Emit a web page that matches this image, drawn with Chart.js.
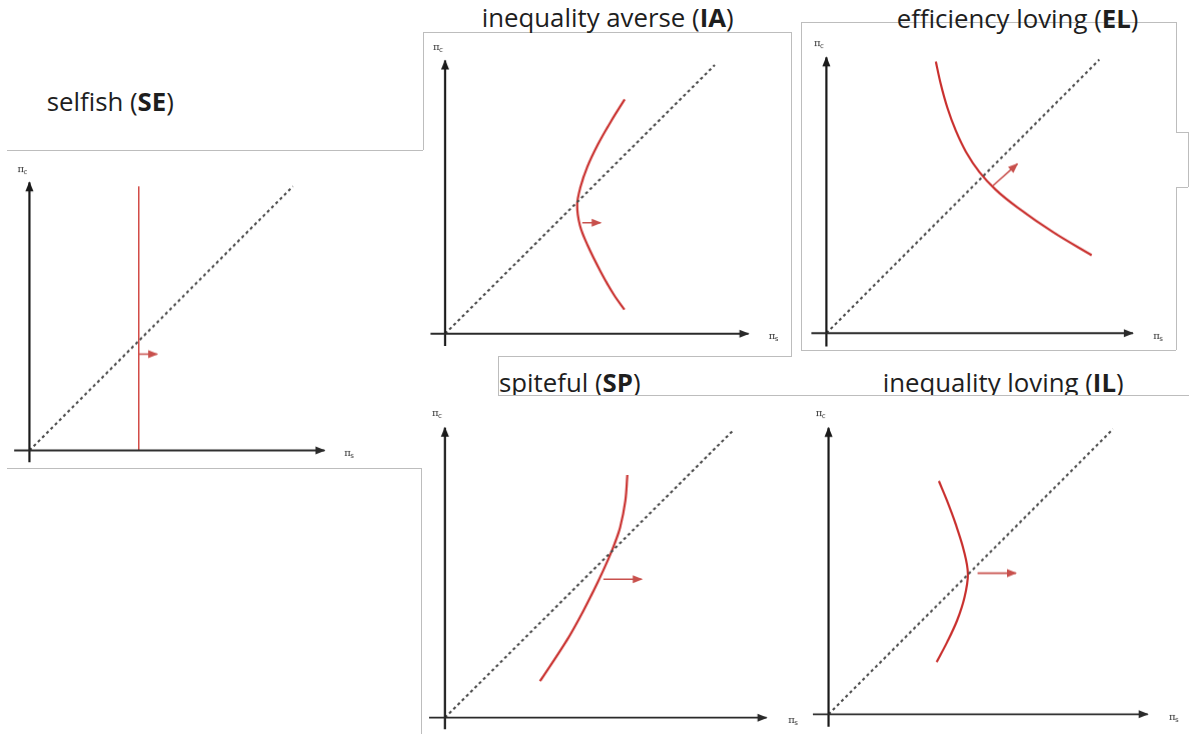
<!DOCTYPE html>
<html>
<head>
<meta charset="utf-8">
<script src="https://cdn.jsdelivr.net/npm/chart.js@4.4.1/dist/chart.umd.min.js"></script>
<style>
  html, body { margin: 0; padding: 0; background: #fff; }
  body { width: 1189px; height: 734px; position: relative; overflow: hidden; }
  .ln { position: absolute; background: #bdbdbd; }
  .title { position: absolute; font-family: "Open Sans", sans-serif; font-size: 25.8px; line-height: 25.8px;
           color: #1e1e1e; white-space: nowrap; }
  .clip { position: absolute; overflow: hidden; }
  .panel { position: absolute; }
</style>
</head>
<body>
<script>
// ---- data (in each panel's own units, origin = 0,0, end of diagonal = 10,10) ----
const panelCodes = ['SE', 'IA', 'EL', 'SP', 'IL']
const panelNames = ['selfish', 'inequality averse', 'efficiency loving', 'spiteful', 'inequality loving']
const xAxisFrom = [-0.58, -0.54, -0.55, -0.55, -0.55]
const xAxisTo = [11.2, 11.25, 11.23, 11.16, 11.22]
const yAxisFrom = [-0.45, -0.46, -0.49, -0.40, -0.44]
const yAxisTo = [10.15, 10.17, 10.08, 10.09, 10.05]
const diagonalTo = [10, 10, 10, 10, 10]

const seCurve = [[4.15, 0], [4.15, 10]]
const iaCurve = [[6.66, 8.72], [6.15, 7.9], [5.67, 7.05], [5.27, 6.2], [5.02, 5.45], [4.9, 4.8],
                 [5.0, 4.04], [5.28, 3.3], [5.77, 2.31], [6.26, 1.45], [6.65, 0.9]]
const elCurve = [[4.01, 9.93], [4.19, 9.11], [4.43, 8.25], [4.74, 7.41], [5.12, 6.62], [5.6, 5.9],
                 [6.2, 5.25], [7.0, 4.6], [8.3, 3.7], [9.72, 2.85]]
const spCurve = [[6.33, 8.45], [6.26, 7.55], [6.08, 6.63], [5.89, 6.06], [5.67, 5.52], [5.31, 4.73],
                 [4.82, 3.75], [4.24, 2.71], [3.30, 1.27]]
const ilCurve = [[3.88, 8.18], [4.17, 7.48], [4.47, 6.67], [4.76, 5.73], [4.9, 4.92], [4.78, 4.1],
                 [4.52, 3.29], [4.17, 2.53], [3.80, 1.83]]

const seArrow = [[4.15, 3.65], [4.85, 3.65]]
const iaArrow = [[5.09, 4.13], [5.77, 4.13]]
const elArrow = [[6.11, 5.40], [7.0, 6.19]]
const spArrow = [[5.5, 4.82], [6.83, 4.82]]
const ilArrow = [[5.24, 4.95], [6.59, 4.95]]

const curves = [seCurve, iaCurve, elCurve, spCurve, ilCurve]
const arrows = [seArrow, iaArrow, elArrow, spArrow, ilArrow]

// ---- layout ----
const panelOrigin = [[28.3, 450.7], [444, 334.3], [825, 333.3], [444.3, 718.3], [827.3, 714]]
const panelScale = [26.5, 27.05, 27.45, 28.9, 28.6]
const titleLeft = [46.7, 481.7, 896.7, 499, 882.7]
const titleBaseline = [111.7, 28.3, 29.3, 393.3, 393.3]
const titleClip = [null, null, null, 395, 395]
const range = { xMin: -1, xMax: 13, yMin: -1, yMax: 11.3 }

// frame lines: [x1, y1, x2, y2]
const frameLines = [
    [7, 150, 423, 150], [7, 468, 421, 468], [423, 32, 423, 150], [421, 468, 421, 734],
    [423, 32, 791, 32], [791, 32, 791, 357], [498, 356, 791, 356], [498, 356, 498, 395],
    [498, 395, 1189, 395],
    [801, 22, 1176, 22], [801, 350, 1176, 350], [801, 22, 801, 350], [1176, 22, 1176, 132],
    [1176, 132, 1188, 132], [1188, 132, 1188, 187], [1176, 187, 1188, 187], [1176, 187, 1176, 350]
]

frameLines.forEach(l => {
    let d = document.createElement('div')
    d.className = 'ln'
    d.style.left = Math.min(l[0], l[2]) + 'px'
    d.style.top = Math.min(l[1], l[3]) + 'px'
    d.style.width = Math.max(1, Math.abs(l[2] - l[0])) + 'px'
    d.style.height = Math.max(1, Math.abs(l[3] - l[1])) + 'px'
    document.body.appendChild(d)
})

//titles
panelNames.forEach((name, i) => {
    let t = document.createElement('div')
    t.className = 'title'
    t.innerHTML = name + ' (<b>' + panelCodes[i] + '</b>)'
    let top = titleBaseline[i] - 22.9
    if (titleClip[i]) {
        let c = document.createElement('div')
        c.className = 'clip'
        c.style.left = titleLeft[i] + 'px'
        c.style.top = (top - 5) + 'px'
        c.style.width = '400px'
        c.style.height = (titleClip[i] - top + 5) + 'px'
        t.style.left = '0px'
        t.style.top = '5px'
        c.appendChild(t)
        document.body.appendChild(c)
    } else {
        t.style.left = titleLeft[i] + 'px'
        t.style.top = top + 'px'
        document.body.appendChild(t)
    }
})

//arrow heads + axis symbols
const arrowPlugin = {
    id: 'arrowHeads',
    afterDatasetsDraw(chart) {
        const ctx = chart.ctx
        chart.data.datasets.forEach((ds, i) => {
            if (!ds.arrowSize) return
            const pts = chart.getDatasetMeta(i).data
            const a = pts[pts.length - 2], b = pts[pts.length - 1]
            const ang = Math.atan2(b.y - a.y, b.x - a.x)
            ctx.save()
            ctx.fillStyle = ds.borderColor
            ctx.translate(b.x, b.y)
            ctx.rotate(ang)
            ctx.beginPath()
            ctx.moveTo(1, 0)
            ctx.lineTo(-ds.arrowSize, ds.arrowSize * 0.45)
            ctx.lineTo(-ds.arrowSize, -ds.arrowSize * 0.45)
            ctx.closePath()
            ctx.fill()
            ctx.restore()
        })
        // pi labels near the axis ends
        const k = chart.options.plugins.arrowHeads.panel
        const xs = chart.scales.x, ys = chart.scales.y
        const drawPi = (x, y, sub) => {
            ctx.save()
            ctx.fillStyle = '#333'
            ctx.textBaseline = 'alphabetic'
            ctx.font = '10px "DejaVu Serif", serif'
            ctx.fillText('π', x, y)
            ctx.font = '7px "DejaVu Sans", sans-serif'
            ctx.fillText(sub, x + 6, y + 2)
            ctx.restore()
        }
        drawPi(xs.getPixelForValue(-0.45), ys.getPixelForValue(yAxisTo[k] + 0.4), 'c')
        drawPi(xs.getPixelForValue(xAxisTo[k] + 0.75), ys.getPixelForValue(-0.2), 's')
    }
}

function pts(arr) {
    return arr.map(p => ({ x: p[0], y: p[1] }))
}

panelCodes.forEach((code, i) => {
    const s = panelScale[i]
    const o = panelOrigin[i]
    let box = document.createElement('div')
    box.className = 'panel'
    box.style.left = (o[0] + range.xMin * s) + 'px'
    box.style.top = (o[1] - range.yMax * s) + 'px'
    box.style.width = ((range.xMax - range.xMin) * s) + 'px'
    box.style.height = ((range.yMax - range.yMin) * s) + 'px'
    let cv = document.createElement('canvas')
    box.appendChild(cv)
    document.body.appendChild(box)

    new Chart(cv.getContext('2d'), {
        type: 'scatter',
        data: {
            datasets: [{
                label: 'x axis',
                data: pts([[xAxisFrom[i], 0], [xAxisTo[i], 0]]),
                showLine: true,
                borderColor: '#2a2a2a',
                borderWidth: 1.8,
                arrowSize: 9
            }, {
                label: 'y axis',
                data: pts([[0, yAxisFrom[i]], [0, yAxisTo[i]]]),
                showLine: true,
                borderColor: '#1a1a1a',
                borderWidth: 2.2,
                arrowSize: 9
            }, {
                label: 'equal split',
                data: pts([[0, 0], [diagonalTo[i], diagonalTo[i]]]),
                showLine: true,
                borderColor: '#4a4a4a',
                borderWidth: 2.1,
                borderDash: [3, 3]
            }, {
                label: 'indifference curve',
                data: pts(curves[i]),
                showLine: true,
                borderColor: i == 0 ? '#d24a46' : '#c9302e',
                borderWidth: i == 0 ? 1.5 : 2.2,
                tension: 0.35
            }, {
                label: 'direction',
                data: pts(arrows[i]),
                showLine: true,
                borderColor: '#c8504c',
                borderWidth: 1.6,
                arrowSize: 9
            }]
        },
        options: {
            responsive: true,
            maintainAspectRatio: false,
            animation: false,
            events: [],
            layout: { padding: 0 },
            elements: { point: { radius: 0 } },
            scales: {
                x: { type: 'linear', min: range.xMin, max: range.xMax, display: false },
                y: { type: 'linear', min: range.yMin, max: range.yMax, display: false }
            },
            plugins: {
                legend: { display: false },
                tooltip: { enabled: false },
                arrowHeads: { panel: i }
            }
        },
        plugins: [arrowPlugin]
    })
})
</script>
</body>
</html>
